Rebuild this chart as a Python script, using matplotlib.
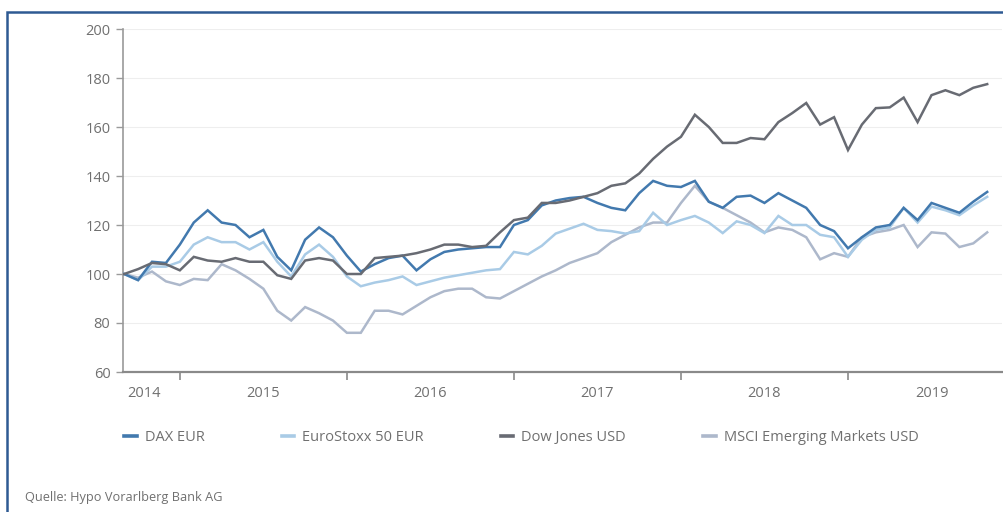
import numpy as np
import pandas as pd
import matplotlib
matplotlib.use("Agg")
import matplotlib.pyplot as plt
from matplotlib.lines import Line2D
from matplotlib.patches import Rectangle

# ---------------- data (index, start = 100) ----------------
dates = pd.date_range("2014-09-01", periods=63, freq="MS")

dax = [100, 97.5, 105, 104.5, 112, 121, 126, 121, 120, 115, 118, 107, 101.5, 114, 119,
       115, 107.5, 101, 104, 106.5, 107.5, 101.5, 106, 109, 110, 110.5, 111, 111, 120,
       122, 128, 130, 131, 131.5, 129, 127, 126, 133, 138, 136, 135.5, 138, 129.5, 127,
       131.5, 132, 129, 133, 130, 127, 120, 117.5, 110.5, 115, 119, 120, 127, 122, 129,
       127, 125, 129.5, 133.5]

eurostoxx = [100, 97.5, 103, 103, 105, 112, 115, 113, 113, 110, 113, 105, 99, 108, 112,
             107, 99, 95, 96.5, 97.5, 99, 95.5, 97, 98.5, 99.5, 100.5, 101.5, 102, 109,
             108, 111.5, 116.5, 118.5, 120.5, 118, 117.5, 116.5, 117.5, 125, 120, 122,
             123.7, 121, 116.7, 121.5, 120, 116.7, 123.7, 120, 120, 116, 115, 107, 114,
             118, 119, 127, 121, 127.5, 126, 124, 128, 131.5]

dow = [100, 102, 104.5, 104, 101.5, 107, 105.5, 105, 106.5, 105, 105, 99.5, 98, 105.5,
       106.5, 105.5, 100, 100, 106.5, 107, 107.5, 108.5, 110, 112, 112, 111, 111.5, 117,
       122, 123, 129, 129, 130, 131.5, 133, 136, 137, 141, 147, 152, 156, 165, 160, 153.5,
       153.5, 155.5, 155, 162, 165.7, 169.8, 161, 164, 150.6, 161, 167.7, 168, 172, 162,
       173, 175, 173, 176, 177.5]

msci_em = [100, 98.5, 101, 97, 95.5, 98, 97.5, 104, 101.5, 98, 94, 85, 81, 86.5, 84, 81,
           76, 76, 85, 85, 83.5, 87, 90.5, 93, 94, 94, 90.5, 90, 93, 96, 99, 101.5, 104.5,
           106.5, 108.5, 113, 116, 119, 121, 121, 129, 136, 129.5, 127, 124, 121, 117, 119,
           118, 115, 106, 108.5, 107, 115, 117, 118, 120, 111, 117, 116.5, 111, 112.5, 117]

series_names = ["DAX EUR", "EuroStoxx 50 EUR", "Dow Jones USD", "MSCI Emerging Markets USD"]
series_values = [dax, eurostoxx, dow, msci_em]
series_colors = ["#4279ae", "#a9cbe6", "#686b73", "#adb8cb"]

years = [2014, 2015, 2016, 2017, 2018, 2019]
y_ticks = [60, 80, 100, 120, 140, 160, 180, 200]
source_text = "Quelle: Hypo Vorarlberg Bank AG"

# ---------------- plotting ----------------
plt.rcParams["font.family"] = ["Open Sans", "DejaVu Sans"]
txt_color = "#707070"

W, H = 1004, 512
fig = plt.figure(figsize=(W / 100, H / 100), dpi=100)
fig.patch.set_facecolor("white")

ax = fig.add_axes([123 / W, 1 - 372 / H, (1002 - 123) / W, 343 / H])

xdec = dates.year + (dates.month - 1) / 12.0

order = [3, 1, 0, 2]
for i in order:
    ax.plot(xdec, series_values[i], color=series_colors[i], lw=1.8,
            solid_joinstyle="miter", zorder=3 + (i in (0, 2)))

ax.set_ylim(60, 200)
ax.set_xlim(xdec[0] - 0.007, 2019.922)
ax.set_yticks(y_ticks)
ax.set_yticklabels([str(v) for v in y_ticks])

# year boundary ticks (major) and centred year labels (minor)
ax.set_xticks([y for y in years[1:]])
ax.set_xticklabels([])
label_pos = [max(xdec[0] + 0.12, y + 0.5) for y in years]
ax.set_xticks(label_pos, minor=True)
ax.set_xticklabels([str(y) for y in years], minor=True)

ax.tick_params(axis="x", which="major", direction="out", length=6, width=1.2,
               color="#8a8a8a")
ax.tick_params(axis="x", which="minor", length=0, pad=10, labelsize=10.5,
               labelcolor=txt_color)
ax.tick_params(axis="y", direction="out", length=5, width=1.0, color="#9a9a9a",
               pad=4, labelsize=10.5, labelcolor=txt_color)

for s in ["top", "right"]:
    ax.spines[s].set_visible(False)
ax.spines["left"].set_color("#9a9a9a")
ax.spines["left"].set_linewidth(1.2)
ax.spines["bottom"].set_color("#8a8a8a")
ax.spines["bottom"].set_linewidth(1.6)

ax.grid(axis="y", color="#eeeeee", lw=0.8)
ax.set_axisbelow(True)

handles = [Line2D([], [], color=c, lw=2.6) for c in series_colors]
fig.legend(handles, series_names, loc="upper left",
           bbox_to_anchor=(111 / W, 1 - 417 / H), ncol=4, frameon=False,
           handlelength=0.85, handletextpad=0.55, columnspacing=5.3,
           fontsize=10.5, labelcolor=txt_color)

fig.text(25 / W, 1 - 497 / H, source_text, fontsize=9.2, color=txt_color,
         va="center", ha="left")

# blue frame (top and left edges visible)
fig.patches.append(Rectangle((7 / W, -0.2), 1.2, 1 - 12 / H + 0.2,
                             transform=fig.transFigure, fill=False,
                             edgecolor="#2e5a93", lw=1.8))

fig.savefig("out.png", dpi=100, facecolor="white")
